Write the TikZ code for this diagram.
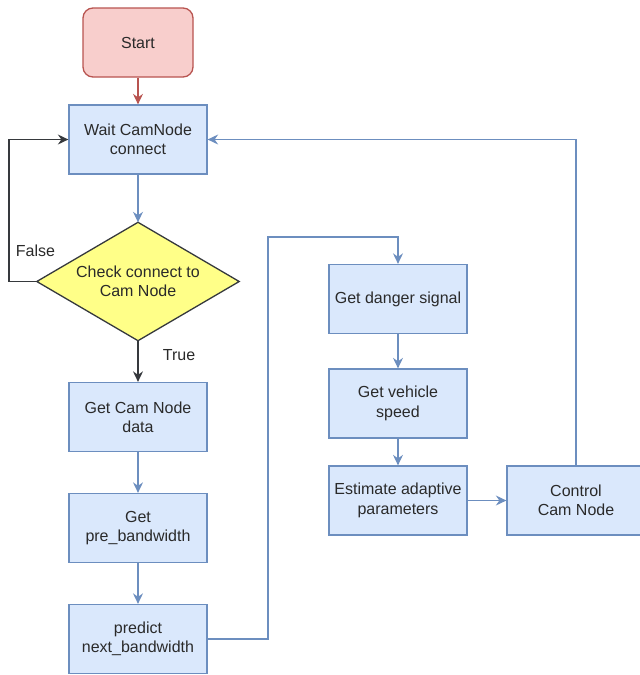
\documentclass[tikz,border=0pt]{standalone}
\usepackage{fontspec}
\setmainfont{Liberation Sans}
\usetikzlibrary{arrows.meta}
\definecolor{bluefill}{HTML}{DAE8FC}
\definecolor{bluedraw}{HTML}{6C8EBF}
\definecolor{redfill}{HTML}{F8CECC}
\definecolor{reddraw}{HTML}{B85450}
\definecolor{yelfill}{HTML}{FFFF88}
\definecolor{darkline}{HTML}{36393D}
\definecolor{txt}{HTML}{2A2A2A}
\tikzset{
  base/.style={font=\fontsize{16}{19.3}\selectfont, text=txt, align=center, inner sep=0pt},
  procbox/.style={base, draw=bluedraw, fill=bluefill, line width=1.3pt,
    minimum width=138pt, minimum height=69pt},
  startbox/.style={base, draw=reddraw, fill=redfill, line width=1.3pt,
    rounded corners=10pt, minimum width=110pt, minimum height=69pt},
  decisionarea/.style={base, minimum width=202pt, minimum height=118pt},
  flow/.style={draw=bluedraw, line width=1.3pt, -{Stealth[length=10.5pt,width=10pt,inset=3.5pt]}},
  flowdark/.style={flow, draw=darkline},
  flowred/.style={flow, draw=reddraw},
  lbl/.style={base}
}
\begin{document}
\begin{tikzpicture}[x=1pt,y=-1pt]
\useasboundingbox (0,0) rectangle (640,675);

% left column
\node[startbox] (start) at (138,42.5) {Start};
\node[procbox] (wait) at (138,139.5) {Wait CamNode\\connect};
\node[decisionarea] (check) at (138,281.5) {};
\path[draw=darkline, fill=yelfill, line width=1.3pt]
  (check.north) -- (check.east) -- (check.south) -- (check.west) -- cycle;
\node[base] (checktxt) at (check.center) {Check connect to\\Cam Node};
\node[procbox] (gcd) at (138,417) {Get Cam Node\\data};
\node[procbox] (gpb) at (138,528) {Get\\pre\_bandwidth};
\node[procbox] (pnb) at (138,639) {predict\\next\_bandwidth};

% right column
\node[procbox] (gds) at (398,299) {Get danger signal};
\node[procbox] (gvs) at (398,403.5) {Get vehicle\\speed};
\node[procbox] (eap) at (398,500.5) {Estimate adaptive\\parameters};
\node[procbox] (ccn) at (576,500.5) {Control\\Cam Node};

% branch labels
\node[lbl] (lfalse) at (35.5,251) {False};
\node[lbl] (ltrue) at (179,355) {True};

% bend points of the long connectors
\coordinate (loopleft) at (9,139.5);
\coordinate (riseup) at (268,237);

% connectors
\draw[flowred] (start.south) -- (wait.north);
\draw[flow] (wait.south) -- (check.north);
\draw[flowdark] (check.west) -| (loopleft) -- (wait.west);
\draw[flowdark] (check.south) -- (gcd.north);
\draw[flow] (gcd.south) -- (gpb.north);
\draw[flow] (gpb.south) -- (pnb.north);
\draw[flow] (pnb.east) -| (riseup) -| (gds.north);
\draw[flow] (gds.south) -- (gvs.north);
\draw[flow] (gvs.south) -- (eap.north);
\draw[flow] (eap.east) -- (ccn.west);
\draw[flow] (ccn.north) |- (wait.east);
\end{tikzpicture}
\end{document}
